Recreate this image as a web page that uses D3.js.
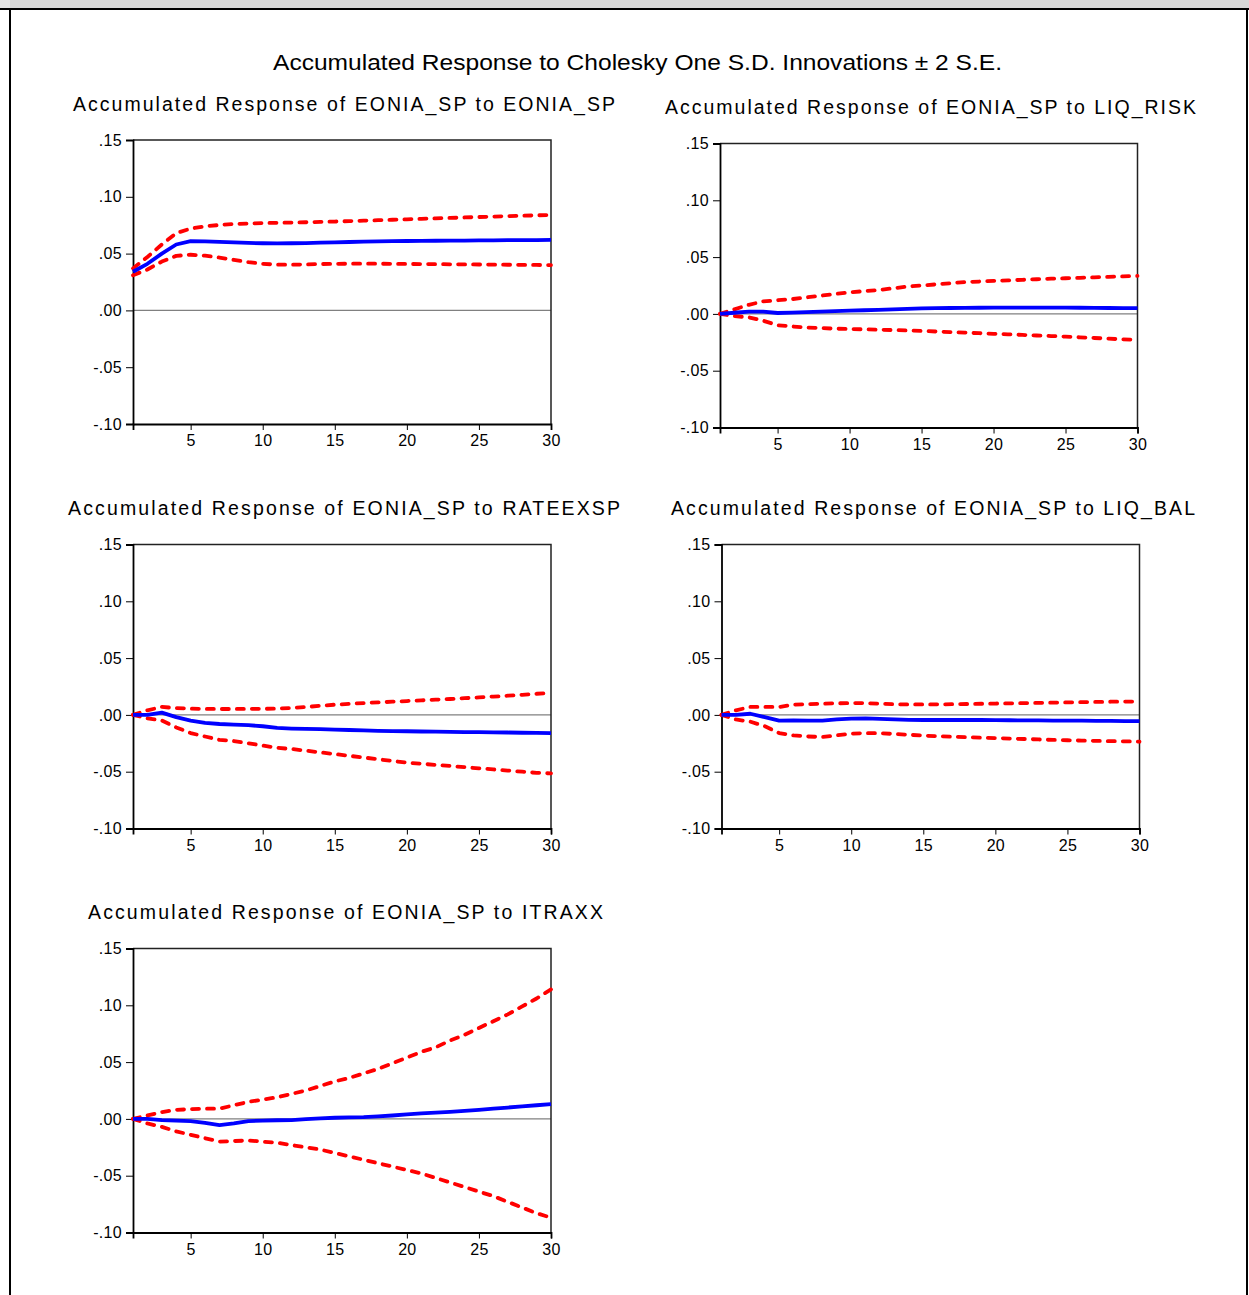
<!DOCTYPE html>
<html>
<head>
<meta charset="utf-8">
<script src="https://cdn.jsdelivr.net/npm/d3@7"></script>
<style>
  html, body { margin: 0; padding: 0; background: #fff; }
  svg { display: block; font-family: "Liberation Sans", Arial, sans-serif; }
</style>
</head>
<body>
<svg id="chart" width="1249" height="1295"></svg>
<script>
// Forecast horizon (periods)
const periods = [1,2,3,4,5,6,7,8,9,10,11,12,13,14,15,16,17,18,19,20,21,22,23,24,25,26,27,28,29,30];

const yTicks = [0.15, 0.10, 0.05, 0.00, -0.05, -0.10];
const yTickLabels = [".15", ".10", ".05", ".00", "-.05", "-.10"];
const xTicks = [5, 10, 15, 20, 25, 30];

const mainTitle = "Accumulated Response to Cholesky One S.D. Innovations \u00b1 2 S.E.";
const shocks = ["EONIA_SP", "LIQ_RISK", "RATEEXSP", "LIQ_BAL", "ITRAXX"];

// Accumulated responses of EONIA_SP, with +/- 2 S.E. bands
const respEONIA = [0.034,0.041,0.050,0.058,0.061,0.0608,0.0603,0.0598,0.0594,0.0591,0.0590,0.0591,0.0593,0.0596,0.0599,0.0602,0.0605,0.0607,0.0609,0.0611,0.0612,0.0613,0.0614,0.0615,0.0616,0.0617,0.0618,0.0619,0.0619,0.0620];
const upperEONIA = [0.037,0.047,0.058,0.068,0.072,0.074,0.0752,0.0760,0.0765,0.0769,0.0771,0.0773,0.0776,0.0779,0.0782,0.0786,0.0790,0.0794,0.0798,0.0802,0.0806,0.0810,0.0814,0.0818,0.0822,0.0826,0.0830,0.0833,0.0837,0.0840];
const lowerEONIA = [0.031,0.036,0.043,0.048,0.049,0.0482,0.0465,0.0445,0.0425,0.0410,0.0403,0.0402,0.0405,0.0408,0.0410,0.0411,0.0411,0.0411,0.0410,0.0409,0.0408,0.0407,0.0406,0.0405,0.0404,0.0403,0.0402,0.0401,0.0400,0.0399];

const respLIQRISK = [0,0.001,0.002,0.002,0.0008,0.0012,0.0016,0.002,0.0024,0.0028,0.0032,0.0036,0.004,0.0044,0.0048,0.005,0.0052,0.0053,0.0054,0.0055,0.0055,0.0055,0.0055,0.0055,0.0055,0.0054,0.0053,0.0052,0.0051,0.005];
const upperLIQRISK = [0,0.004,0.008,0.011,0.012,0.013,0.0145,0.016,0.0175,0.019,0.020,0.021,0.0225,0.024,0.025,0.026,0.027,0.028,0.0285,0.029,0.0295,0.030,0.0305,0.031,0.0314,0.0318,0.0322,0.0326,0.033,0.0334];
const lowerLIQRISK = [0,-0.002,-0.003,-0.006,-0.010,-0.011,-0.012,-0.0125,-0.013,-0.0133,-0.0136,-0.0139,-0.0142,-0.0146,-0.015,-0.0155,-0.016,-0.0165,-0.017,-0.0175,-0.018,-0.0185,-0.019,-0.0195,-0.020,-0.0206,-0.0212,-0.0218,-0.0224,-0.023];

const respRATE = [0,0,0.002,-0.002,-0.005,-0.007,-0.008,-0.0085,-0.009,-0.010,-0.0115,-0.012,-0.0123,-0.0126,-0.0129,-0.0133,-0.0137,-0.014,-0.0142,-0.0144,-0.0146,-0.0148,-0.015,-0.0151,-0.0152,-0.0153,-0.0155,-0.0157,-0.0158,-0.016];
const upperRATE = [0,0.004,0.007,0.006,0.0055,0.0053,0.0052,0.0052,0.0053,0.0054,0.0055,0.006,0.007,0.008,0.009,0.0097,0.0104,0.011,0.0116,0.0122,0.0128,0.0134,0.014,0.0147,0.0154,0.0161,0.0169,0.0177,0.0186,0.0195];
const lowerRATE = [0,-0.003,-0.005,-0.011,-0.016,-0.019,-0.022,-0.023,-0.025,-0.027,-0.029,-0.030,-0.0315,-0.033,-0.0345,-0.036,-0.0375,-0.039,-0.0405,-0.042,-0.043,-0.044,-0.045,-0.046,-0.047,-0.048,-0.049,-0.050,-0.051,-0.0515];

const respLIQBAL = [0,0,0.001,-0.002,-0.005,-0.0048,-0.005,-0.005,-0.004,-0.0032,-0.003,-0.0035,-0.004,-0.0043,-0.0045,-0.0045,-0.0045,-0.0045,-0.0045,-0.0046,-0.0047,-0.0048,-0.0049,-0.005,-0.005,-0.0051,-0.0052,-0.0053,-0.0054,-0.0055];
const upperLIQBAL = [0,0.004,0.007,0.007,0.007,0.009,0.0095,0.0098,0.0102,0.0104,0.0104,0.0098,0.0094,0.0092,0.0092,0.0093,0.0094,0.0096,0.0098,0.0100,0.0102,0.0104,0.0106,0.0108,0.011,0.0112,0.0114,0.0116,0.0117,0.0118];
const lowerLIQBAL = [0,-0.004,-0.006,-0.010,-0.016,-0.018,-0.019,-0.0195,-0.018,-0.0165,-0.016,-0.0162,-0.0168,-0.0175,-0.0182,-0.0188,-0.0192,-0.0196,-0.0200,-0.0204,-0.0208,-0.0212,-0.0216,-0.0220,-0.0223,-0.0226,-0.0229,-0.0231,-0.0233,-0.0235];

const respITRAXX = [0,0,-0.001,-0.0015,-0.002,-0.0035,-0.0055,-0.004,-0.002,-0.0015,-0.0012,-0.001,-0.0002,0.0005,0.001,0.0013,0.0016,0.0022,0.003,0.004,0.0048,0.0055,0.0062,0.007,0.008,0.009,0.010,0.011,0.012,0.013];
const upperITRAXX = [0,0.003,0.006,0.008,0.0085,0.009,0.009,0.012,0.015,0.017,0.019,0.022,0.025,0.029,0.033,0.036,0.040,0.044,0.049,0.054,0.059,0.063,0.069,0.074,0.080,0.086,0.092,0.099,0.106,0.114];
const lowerITRAXX = [0,-0.004,-0.007,-0.011,-0.014,-0.017,-0.020,-0.0195,-0.019,-0.020,-0.021,-0.023,-0.025,-0.027,-0.030,-0.033,-0.036,-0.039,-0.042,-0.045,-0.048,-0.052,-0.056,-0.060,-0.064,-0.068,-0.073,-0.078,-0.083,-0.087];

const seriesByShock = [
  [respEONIA, upperEONIA, lowerEONIA],
  [respLIQRISK, upperLIQRISK, lowerLIQRISK],
  [respRATE, upperRATE, lowerRATE],
  [respLIQBAL, upperLIQBAL, lowerLIQBAL],
  [respITRAXX, upperITRAXX, lowerITRAXX]
];

// Panel geometry: plot box and title extents
const panels = [
  { left: 133,   right: 551,    top: 140,   bottom: 424,   titleY: 111, titleX0: 73,  titleX1: 615 },
  { left: 720,   right: 1137.5, top: 143.5, bottom: 427.5, titleY: 114, titleX0: 665, titleX1: 1196 },
  { left: 133,   right: 551,    top: 544.5, bottom: 828.5, titleY: 515, titleX0: 68,  titleX1: 620 },
  { left: 721.5, right: 1139.5, top: 544.5, bottom: 828.5, titleY: 515, titleX0: 671, titleX1: 1195 },
  { left: 133,   right: 551,    top: 948.5, bottom: 1232.5, titleY: 919, titleX0: 88, titleX1: 603 }
];

const FONT = "\"Liberation Sans\", Arial, sans-serif";
const svg = d3.select("#chart");

// Window frame
svg.append("rect").attr("x", 0).attr("y", 0).attr("width", 1249).attr("height", 9).attr("fill", "#d8d8d8");
svg.append("rect").attr("x", 0).attr("y", 0).attr("width", 10).attr("height", 9).attr("fill", "#e4e4e4");
svg.append("rect").attr("x", 0).attr("y", 8).attr("width", 1249).attr("height", 2).attr("fill", "#000");
svg.append("rect").attr("x", 9).attr("y", 8).attr("width", 2).attr("height", 1287).attr("fill", "#000");
svg.append("rect").attr("x", 1246).attr("y", 8).attr("width", 2).attr("height", 1287).attr("fill", "#000");

svg.append("text")
  .attr("x", 273).attr("y", 70)
  .attr("font-size", 22).attr("font-family", FONT)
  .attr("textLength", 729).attr("lengthAdjust", "spacingAndGlyphs")
  .attr("fill", "#000")
  .text(mainTitle);

panels.forEach((p, i) => {
  const [resp, upper, lower] = seriesByShock[i];
  const x = d3.scaleLinear().domain([1, 30]).range([p.left, p.right]);
  const y = d3.scaleLinear().domain([-0.10, 0.15]).range([p.bottom, p.top]);
  const g = svg.append("g");

  g.append("text")
    .attr("x", p.titleX0).attr("y", p.titleY)
    .attr("font-size", 19.5).attr("font-family", FONT)
    .attr("textLength", p.titleX1 - p.titleX0).attr("lengthAdjust", "spacing")
    .attr("fill", "#000")
    .text(`Accumulated Response of EONIA_SP to ${shocks[i]}`);

  // zero reference line
  g.append("line")
    .attr("x1", p.left).attr("x2", p.right)
    .attr("y1", y(0)).attr("y2", y(0))
    .attr("stroke", "#808080").attr("stroke-width", 1.2);

  // plot box (top/right)
  g.append("path")
    .attr("d", `M${p.left},${p.top}H${p.right}V${p.bottom}`)
    .attr("fill", "none").attr("stroke", "#222").attr("stroke-width", 1.5);

  const yAxis = d3.axisLeft(y).tickValues(yTicks)
    .tickFormat((d, k) => yTickLabels[k]).tickSize(7).tickPadding(4);
  const ya = g.append("g").attr("transform", `translate(${p.left},0)`).call(yAxis)
    .attr("font-size", 16).attr("font-family", FONT);
  ya.select(".domain").attr("stroke", "#000").attr("stroke-width", 1.8);
  ya.selectAll(".tick line").attr("stroke", "#000").attr("stroke-width", 1);
  ya.selectAll(".tick text").attr("fill", "#000").attr("letter-spacing", 0.3);

  const xAxis = d3.axisBottom(x).tickValues(xTicks).tickSize(6).tickPadding(5);
  const xa = g.append("g").attr("transform", `translate(0,${p.bottom})`).call(xAxis)
    .attr("font-size", 16).attr("font-family", FONT);
  xa.select(".domain").attr("stroke", "#000").attr("stroke-width", 1.8);
  xa.selectAll(".tick line").attr("stroke", "#000").attr("stroke-width", 1);
  xa.selectAll(".tick text").attr("fill", "#000").attr("letter-spacing", 0.3);

  const line = d3.line().x((d, k) => x(periods[k])).y(d => y(d));

  [upper, lower].forEach(band => {
    g.append("path")
      .attr("d", line(band))
      .attr("fill", "none").attr("stroke", "#ff0000")
      .attr("stroke-width", 3.8).attr("stroke-dasharray", "7,8")
      .attr("stroke-linecap", "round").attr("stroke-linejoin", "round");
  });

  g.append("path")
    .attr("d", line(resp))
    .attr("fill", "none").attr("stroke", "#0000ff")
    .attr("stroke-width", 3.8).attr("stroke-linejoin", "round");
});
</script>
</body>
</html>
